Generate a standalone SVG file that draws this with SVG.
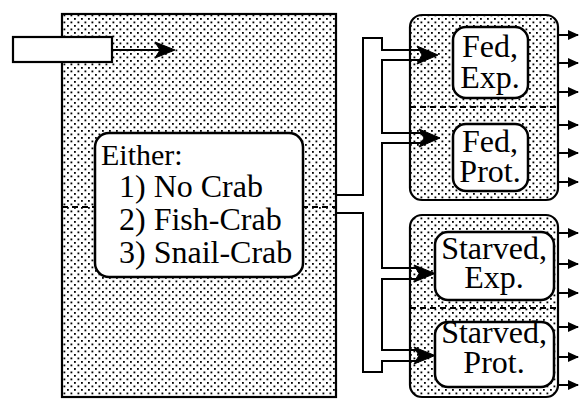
<svg xmlns="http://www.w3.org/2000/svg" width="580" height="399" viewBox="0 0 580 399">
<defs>
<pattern id="dots" width="7" height="7" patternUnits="userSpaceOnUse">
<rect width="7" height="7" fill="#fff"/>
<rect x="0.5" y="0.5" width="1.8" height="1.8" fill="#000"/>
<rect x="4" y="4" width="1.8" height="1.8" fill="#000"/>
</pattern>
<marker id="oh" markerUnits="userSpaceOnUse" markerWidth="12" markerHeight="12" refX="10" refY="5" orient="auto" viewBox="0 0 12 10">
<path d="M0,0 L11,5 L0,10 Z" fill="#000"/>
</marker>
<style>
.frame{fill:url(#dots);stroke:#000;stroke-width:2.2}
.box{fill:#fff;stroke:#000;stroke-width:2.5}
.dash{fill:none;stroke:#000;stroke-width:2;stroke-dasharray:6 4}
.wire{fill:none;stroke:#000;stroke-width:2}
.head{fill:#000;stroke:#000;stroke-width:1}
.out{fill:none;stroke:#000;stroke-width:2;marker-end:url(#oh)}
.t{font-family:"Liberation Serif","Times New Roman",serif;font-size:32px;fill:#000}
.m{text-anchor:middle}
</style>
</defs>

<g id="main">
<rect class="frame" x="62" y="14" width="274" height="383"/>
<line class="dash" x1="62" y1="207" x2="336" y2="207"/>
</g>

<g id="input">
<rect x="13" y="37" width="99" height="25" fill="#fff" stroke="#000" stroke-width="2.2"/>
</g>

<g id="either">
<rect class="box" x="95" y="133" width="208" height="144" rx="14"/>
<text class="t" x="101" y="165" style="font-size:30px">Either:</text>
<text class="t" x="119" y="197">1) No Crab</text>
<text class="t" x="119" y="230">2) Fish-Crab</text>
<text class="t" x="119" y="263">3) Snail-Crab</text>
</g>

<g id="fed-group">
<rect class="frame" x="410" y="15" width="148" height="185" rx="12"/>
<line class="dash" x1="410" y1="107" x2="558" y2="107"/>
</g>

<g id="starved-group">
<rect class="frame" x="410" y="215" width="148" height="182" rx="12"/>
<line class="dash" x1="410" y1="308" x2="558" y2="308"/>
</g>

<g id="fed-exp">
<rect class="box" x="453" y="27" width="75" height="71" rx="13"/>
<text class="t m" x="490" y="57">Fed,</text>
<text class="t m" x="490" y="88">Exp.</text>
</g>

<g id="fed-prot">
<rect class="box" x="453" y="124" width="75" height="67" rx="13"/>
<text class="t m" x="490" y="152">Fed,</text>
<text class="t m" x="490" y="182">Prot.</text>
</g>

<g id="starved-exp">
<rect class="box" x="435" y="232" width="119" height="68" rx="13"/>
<text class="t m" x="494" y="259">Starved,</text>
<text class="t m" x="494" y="288">Exp.</text>
</g>

<g id="starved-prot">
<rect class="box" x="435" y="322" width="119" height="65" rx="13"/>
<text class="t m" x="494" y="343">Starved,</text>
<text class="t m" x="494" y="373">Prot.</text>
</g>

<g id="connectors">
<path class="wire" d="M112,50 H162"/>
<polygon class="head" points="175,50 155,42 160,50 155,58"/>
<path class="wire" d="M336,195 H363 V38 H382 V50 H420"/>
<path class="wire" d="M420,60 H382 V133 H422"/>
<path class="wire" d="M422,143 H382 V268 H417"/>
<path class="wire" d="M417,279 H382 V350 H417"/>
<path class="wire" d="M417,361 H382 V372 H363 V213 H336"/>
<polygon class="head" points="438,55 417,46 422,55 417,64"/>
<polygon class="head" points="440,138 419,129 424,138 419,147"/>
<polygon class="head" points="435,273.5 414,265 419,273.5 414,282"/>
<polygon class="head" points="435,355.5 414,347 419,355.5 414,364"/>
<path class="out" d="M558,35 H578"/>
<path class="out" d="M558,63 H578"/>
<path class="out" d="M558,92 H578"/>
<path class="out" d="M558,125 H578"/>
<path class="out" d="M558,153 H578"/>
<path class="out" d="M558,182 H578"/>
<path class="out" d="M558,233 H578"/>
<path class="out" d="M558,264 H578"/>
<path class="out" d="M558,293 H578"/>
<path class="out" d="M558,327 H578"/>
<path class="out" d="M558,357 H578"/>
<path class="out" d="M558,385 H578"/>
</g>
</svg>
